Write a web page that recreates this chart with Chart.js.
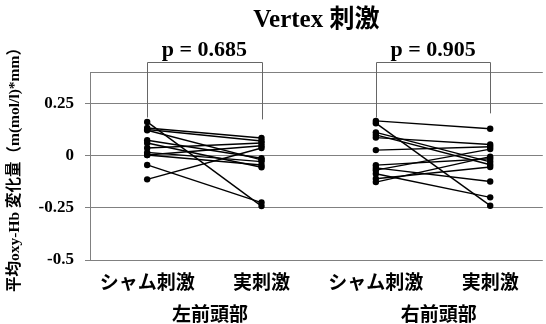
<!DOCTYPE html>
<html>
<head>
<meta charset="utf-8">
<script src="https://cdn.jsdelivr.net/npm/chart.js@4/dist/chart.umd.min.js"></script>
<style>
  html, body { margin: 0; padding: 0; background: #fff; }
  canvas { display: block; }
</style>
</head>
<body>
<canvas id="chart" width="546" height="324"></canvas>
<script>
// Conditions along the x axis and the region groups beneath them
const conditions = ['シャム刺激', '実刺激', 'シャム刺激', '実刺激'];
const regions = ['左前頭部', '右前頭部'];
const pLabels = ['p = 0.685', 'p = 0.905'];

// y axis tick values and their labels
const yTickValues = [-0.5, -0.25, 0, 0.25];
const yTickLabels = ['-0.5', '-0.25', '0', '0.25'];

// Per-subject mean oxy-Hb change, left frontal (sham / real)
const leftSham = [0.161, 0.132, 0.121, 0.073, 0.060, 0.036, 0.015, 0.003, 0.003, -0.045, -0.114, 0.125];
const leftReal = [-0.242, 0.084, -0.021, -0.013, -0.056, 0.060, -0.029, -0.045, 0.047, -0.225, 0.036, 0.070];

// Per-subject mean oxy-Hb change, right frontal (sham / real)
const rightSham = [0.166, 0.155, 0.111, 0.099, 0.086, 0.026, -0.046, -0.059, -0.070, -0.087, -0.111, -0.127];
const rightReal = [0.128, -0.240, -0.030, -0.044, 0.053, 0.042, -0.015, -0.124, 0.031, -0.200, -0.055, -0.005];

const SERIF = "'Liberation Serif', 'Noto Sans CJK JP', serif";
const GOTHIC = "'Noto Sans CJK JP', sans-serif";
const GRID = '#808080';

// One two-point line per subject within each region
function subjectLines(sham, real, xSham, xReal) {
  return sham.map((s, i) => ({
    data: [{ x: xSham, y: s }, { x: xReal, y: real[i] }],
    showLine: true,
    borderColor: '#000',
    backgroundColor: '#000',
    borderWidth: 1.4,
    pointRadius: 3.2,
    pointHoverRadius: 3.2,
    pointBorderWidth: 0
  }));
}

const datasets = [
  ...subjectLines(leftSham, leftReal, 1, 2),
  ...subjectLines(rightSham, rightReal, 3, 4)
];

// Comparison brackets with p values above each region
const bracketPlugin = {
  id: 'brackets',
  afterDraw(chart, args, opts) {
    const { ctx, scales: { x, y } } = chart;
    ctx.save();
    opts.groups.forEach((g, i) => {
      const x1 = x.getPixelForValue(g.from);
      const x2 = x.getPixelForValue(g.to);
      const yTop = Math.round(y.getPixelForValue(opts.top)) + 0.5;
      ctx.strokeStyle = '#666';
      ctx.lineWidth = 1;
      ctx.beginPath();
      ctx.moveTo(Math.round(x1) + 0.5, y.getPixelForValue(g.legs[0]));
      ctx.lineTo(Math.round(x1) + 0.5, yTop);
      ctx.lineTo(Math.round(x2) + 0.5, yTop);
      ctx.lineTo(Math.round(x2) + 0.5, y.getPixelForValue(g.legs[1]));
      ctx.stroke();
      ctx.fillStyle = '#000';
      ctx.font = "bold 22px " + SERIF;
      ctx.textAlign = 'center';
      ctx.textBaseline = 'alphabetic';
      ctx.fillText(pLabels[i], (x1 + x2) / 2, yTop - 7);
    });
    ctx.restore();
  }
};

new Chart(document.getElementById('chart'), {
  type: 'scatter',
  data: { datasets },
  plugins: [bracketPlugin],
  options: {
    responsive: false,
    animation: false,
    events: [],
    layout: { padding: 0 },
    plugins: {
      legend: { display: false },
      tooltip: { enabled: false },
      title: {
        display: true,
        text: 'Vertex 刺激',
        fullSize: false,
        color: '#000',
        font: { family: SERIF, size: 25, weight: 'bold' },
        padding: { top: 6, bottom: 36 }
      },
      brackets: {
        top: 0.448,
        groups: [
          { from: 1, to: 2, legs: [0.182, 0.173] },
          { from: 3, to: 4, legs: [0.182, 0.202] }
        ]
      }
    },
    scales: {
      x: {
        type: 'linear',
        position: 'bottom',
        weight: 0,
        min: 0.5,
        max: 4.46,
        afterBuildTicks: s => { s.ticks = [1, 2, 3, 4].map(v => ({ value: v })); },
        afterFit: s => { s.height = 33; },
        grid: { display: false, drawTicks: false },
        border: { display: false },
        ticks: {
          padding: 10,
          autoSkip: false,
          maxRotation: 0,
          color: '#000',
          font: { family: GOTHIC, size: 19, weight: 'bold' },
          callback: (v, i) => conditions[i]
        }
      },
      x2: {
        type: 'linear',
        position: 'bottom',
        weight: 1,
        min: 0.5,
        max: 4.46,
        afterBuildTicks: s => { s.ticks = [1.55, 3.55].map(v => ({ value: v })); },
        afterFit: s => { s.height = 31; },
        grid: { display: false, drawTicks: false },
        border: { display: false },
        ticks: {
          padding: 9,
          autoSkip: false,
          maxRotation: 0,
          color: '#000',
          font: { family: GOTHIC, size: 19, weight: 'bold' },
          callback: (v, i) => regions[i]
        }
      },
      y: {
        type: 'linear',
        min: -0.5,
        max: 0.4,
        afterBuildTicks: s => { s.ticks = [...yTickValues, 0.4].map(v => ({ value: v })); },
        afterFit: s => { s.width = 90; },
        grid: {
          color: GRID,
          lineWidth: 1,
          tickLength: 5,
          tickColor: c => (c.tick && c.tick.value === 0.4) ? 'rgba(0,0,0,0)' : GRID
        },
        border: { display: true, color: GRID },
        ticks: {
          padding: 11,
          color: '#000',
          font: { family: SERIF, size: 17, weight: 'bold' },
          callback: v => {
            const i = yTickValues.indexOf(v);
            return i < 0 ? '' : yTickLabels[i];
          }
        },
        title: {
          display: true,
          text: '平均oxy-Hb 変化量（m(mol/l)*mm）',
          color: '#000',
          font: { family: SERIF, size: 15.5, weight: 'bold' },
          padding: { top: 6, bottom: 0 }
        }
      }
    }
  }
});
</script>
</body>
</html>
